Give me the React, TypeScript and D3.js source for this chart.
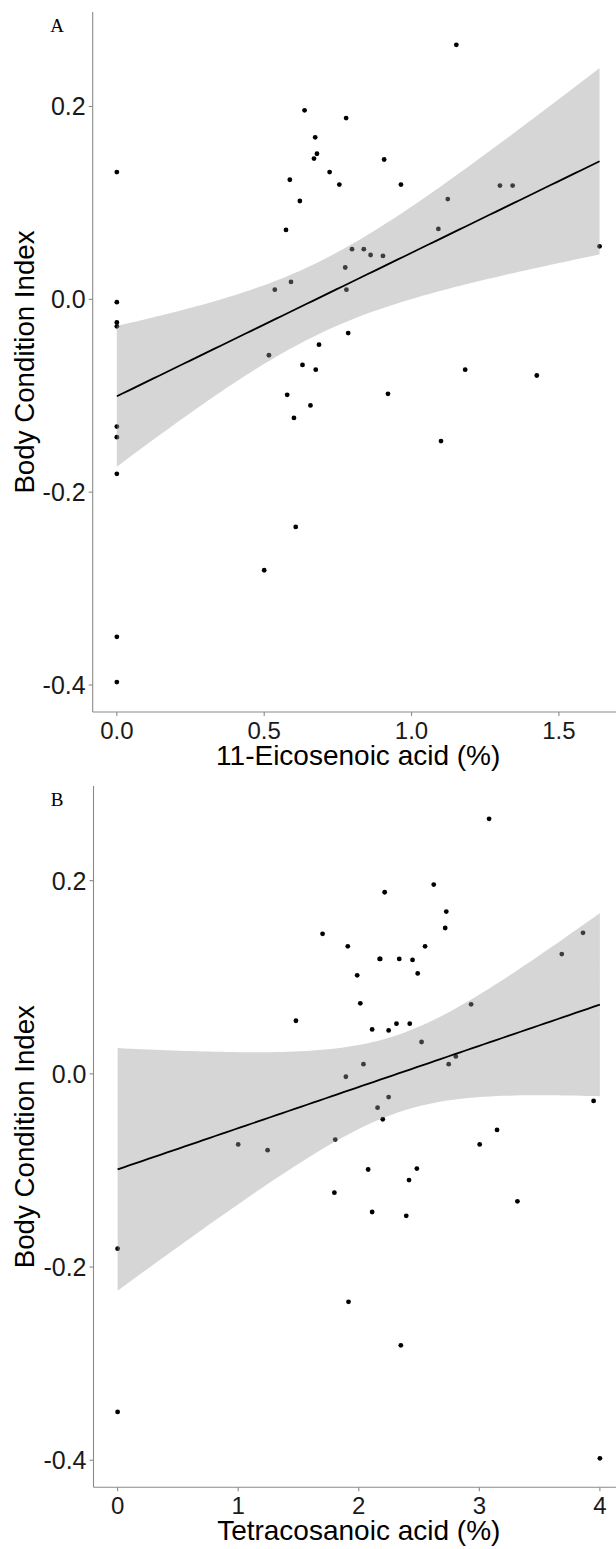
import React from "react";
import * as d3 from "d3";

// ---- Data ----
const bodyConditionA = [0.132,0.196,0.188,0.168,0.151,0.146,0.145,0.132,0.124,0.119,0.119,0.102,0.072,0.264,0.118,0.118,0.104,0.073,0.055,0.052,0.052,0.046,0.045,0.033,0.018,0.010,0.010,-0.003,-0.024,-0.028,-0.035,-0.047,-0.058,-0.068,-0.073,-0.073,-0.079,-0.099,-0.098,-0.110,-0.123,-0.132,-0.143,-0.147,-0.181,-0.236,-0.281,-0.350,-0.397];
const eicosenoic = [0,0.637,0.778,0.673,0.679,0.669,0.907,0.722,0.587,0.755,0.964,0.621,0.574,1.152,1.300,1.343,1.123,1.091,1.638,0.798,0.838,0.861,0.903,0.775,0.591,0.536,0.779,0,0,0,0.785,0.686,0.516,0.630,0.675,1.182,1.425,0.578,0.920,0.657,0.601,0,0,1.100,0,0.607,0.500,0,0];

const bodyConditionB = [0.264,0.196,0.188,0.168,0.151,0.145,0.146,0.132,0.132,0.124,0.119,0.119,0.119,0.118,0.102,0.104,0.073,0.072,0.055,0.046,0.045,0.052,0.052,0.033,0.010,0.010,0.018,-0.003,-0.024,-0.028,-0.035,-0.047,-0.058,-0.068,-0.073,-0.073,-0.079,-0.099,-0.098,-0.110,-0.123,-0.132,-0.143,-0.147,-0.181,-0.236,-0.281,-0.350,-0.398];
const tetracosanoic = [3.081,2.622,2.215,2.726,2.717,1.700,3.860,1.909,2.550,3.684,2.173,2.178,2.336,2.446,1.987,2.489,2.013,2.932,1.479,2.111,2.248,2.313,2.423,2.521,2.039,2.746,2.805,1.893,2.248,3.948,2.156,2.199,3.147,1.805,1.000,3.003,1.244,2.078,2.482,2.417,1.798,3.316,2.111,2.394,0,1.915,2.349,0,4.0];

const yTicks = [-0.4, -0.2, 0.0, 0.2];
const xTicksA = [0, 0.5, 1.0, 1.5];
const xTicksB = [0, 1, 2, 3, 4];
const yDomain: [number, number] = [-0.428, 0.298];

function tQuantile975(df: number) {
  const z = 1.959964;
  return z + (z ** 3 + z) / (4 * df) + (5 * z ** 5 + 16 * z ** 3 + 3 * z) / (96 * df * df);
}

function lmFit(xs: number[], ys: number[]) {
  const n = xs.length;
  const mx = d3.mean(xs)!;
  const my = d3.mean(ys)!;
  let sxx = 0, sxy = 0;
  for (let i = 0; i < n; i++) {
    sxx += (xs[i] - mx) ** 2;
    sxy += (xs[i] - mx) * (ys[i] - my);
  }
  const slope = sxy / sxx;
  const intercept = my - slope * mx;
  let sse = 0;
  for (let i = 0; i < n; i++) sse += (ys[i] - intercept - slope * xs[i]) ** 2;
  const s = Math.sqrt(sse / (n - 2));
  const t = tQuantile975(n - 2);
  const [x0, x1] = d3.extent(xs) as [number, number];
  return d3.range(80).map((i) => {
    const x = x0 + ((x1 - x0) * i) / 79;
    const yhat = intercept + slope * x;
    const se = s * Math.sqrt(1 / n + (x - mx) ** 2 / sxx);
    return { x, y: yhat, lo: yhat - t * se, hi: yhat + t * se };
  });
}

type PanelProps = {
  xs: number[];
  ys: number[];
  top: number;
  bottom: number;
  left: number;
  right: number;
  xTicks: number[];
  xFormat: (v: number) => string;
  xTitle: string;
  label: string;
};

const FONT = "'Liberation Sans', Arial, Helvetica, sans-serif";

function Panel({ xs, ys, top, bottom, left, right, xTicks, xFormat, xTitle, label }: PanelProps) {
  const [xmin, xmax] = d3.extent(xs) as [number, number];
  const pad = (xmax - xmin) * 0.05;
  const x = d3.scaleLinear().domain([xmin - pad, xmax + pad]).range([left, right]);
  const y = d3.scaleLinear().domain(yDomain).range([bottom, top]);
  const fit = lmFit(xs, ys);
  const area = d3
    .area<{ x: number; lo: number; hi: number }>()
    .x((d) => x(d.x))
    .y0((d) => y(d.lo))
    .y1((d) => y(d.hi));
  const line = d3
    .line<{ x: number; y: number }>()
    .x((d) => x(d.x))
    .y((d) => y(d.y));
  const midY = (top + bottom) / 2;
  const midX = (left + right) / 2;
  return (
    <g>
      {xs.map((v, i) => (
        <circle key={i} cx={x(v)} cy={y(ys[i])} r={2.4} fill="#000" />
      ))}
      <path d={area(fit) || ""} fill="#999999" fillOpacity={0.4} />
      <path d={line(fit) || ""} fill="none" stroke="#000" strokeWidth={1.8} />
      <line x1={left} x2={left} y1={top} y2={bottom} stroke="#8a8a8a" strokeWidth={1.1} />
      <line x1={left} x2={right} y1={bottom} y2={bottom} stroke="#8a8a8a" strokeWidth={1.1} />
      {yTicks.map((t) => (
        <g key={t}>
          <line x1={left - 4} x2={left} y1={y(t)} y2={y(t)} stroke="#8a8a8a" strokeWidth={1.1} />
          <text
            x={left - 7}
            y={y(t)}
            dy="0.36em"
            textAnchor="end"
            fontFamily={FONT}
            fontSize={25}
            fill="#1a1a1a"
          >
            {t.toFixed(1)}
          </text>
        </g>
      ))}
      {xTicks.map((t) => (
        <g key={t}>
          <line x1={x(t)} x2={x(t)} y1={bottom} y2={bottom + 4} stroke="#8a8a8a" strokeWidth={1.1} />
          <text
            x={x(t)}
            y={bottom + 27}
            textAnchor="middle"
            fontFamily={FONT}
            fontSize={24}
            fill="#1a1a1a"
          >
            {xFormat(t)}
          </text>
        </g>
      ))}
      <text
        x={midX}
        y={bottom + 53}
        textAnchor="middle"
        fontFamily={FONT}
        fontSize={28}
        fill="#000"
      >
        {xTitle}
      </text>
      <text
        transform={`translate(34,${midY}) rotate(-90)`}
        textAnchor="middle"
        fontFamily={FONT}
        fontSize={27.7}
        fill="#000"
      >
        Body Condition Index
      </text>
      <text
        x={57}
        y={top + 20}
        textAnchor="middle"
        fontFamily="'Liberation Serif', 'Times New Roman', serif"
        fontSize={19}
        fill="#000"
      >
        {label}
      </text>
    </g>
  );
}

export default function App() {
  return (
    <div style={{ position: "absolute", left: 0, top: 0 }}>
      <svg width={616} height={1549} style={{ display: "block", background: "#fff" }}>
        <rect width={616} height={1549} fill="#fff" />
        <Panel
          xs={eicosenoic}
          ys={bodyConditionA}
          top={12}
          bottom={712}
          left={92.7}
          right={623.7}
          xTicks={xTicksA}
          xFormat={(v) => v.toFixed(1)}
          xTitle="11-Eicosenoic acid (%)"
          label="A"
        />
        <Panel
          xs={tetracosanoic}
          ys={bodyConditionB}
          top={786}
          bottom={1487.3}
          left={93.5}
          right={624}
          xTicks={xTicksB}
          xFormat={(v) => String(v)}
          xTitle="Tetracosanoic acid (%)"
          label="B"
        />
      </svg>
    </div>
  );
}
